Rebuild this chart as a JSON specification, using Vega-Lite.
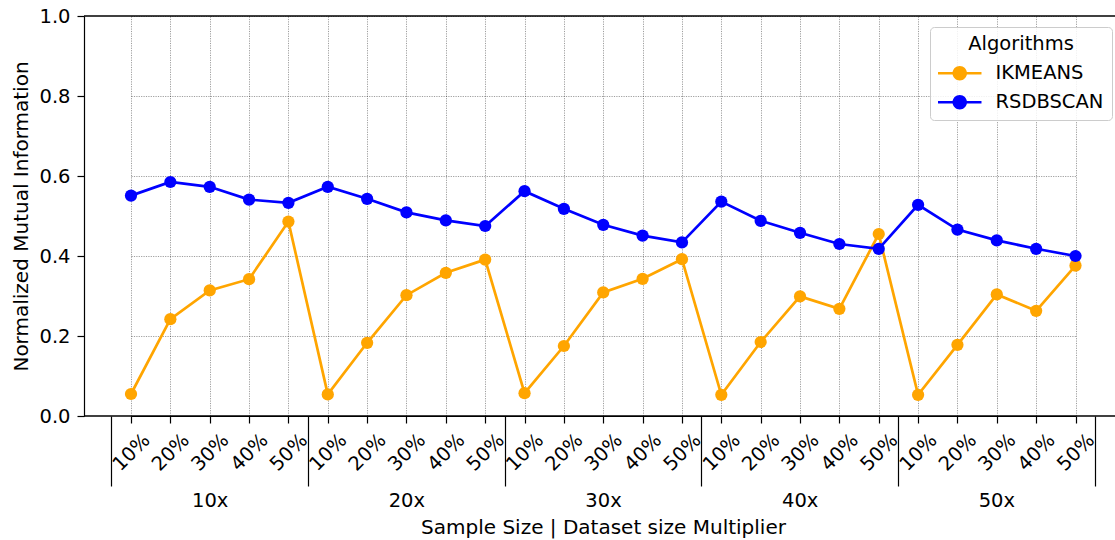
{
  "$schema": "https://vega.github.io/schema/vega-lite/v6.json",
  "width": 1031,
  "height": 400,
  "autosize": {"type": "none"},
  "padding": {"left": 84, "top": 16, "right": 0, "bottom": 124},
  "background": "white",
  "config": {
    "view": {"stroke": null},
    "font": "DejaVu Sans",
    "axis": {
      "domainColor": "black",
      "domainWidth": 1.2,
      "tickColor": "black",
      "tickWidth": 1.2,
      "labelColor": "black",
      "titleColor": "black",
      "labelFont": "DejaVu Sans",
      "titleFont": "DejaVu Sans",
      "labelFontSize": 19.5,
      "titleFontSize": 20,
      "titleFontWeight": "normal",
      "gridColor": "#000000",
      "gridOpacity": 0.55,
      "gridWidth": 0.7,
      "gridDash": [1.2, 1.2]
    }
  },
  "data": {
    "values": [
      {"cell": "10x 10%", "multiplier": "10x", "sample": "10%", "algorithm": "IKMEANS", "nmi": 0.055},
      {"cell": "10x 20%", "multiplier": "10x", "sample": "20%", "algorithm": "IKMEANS", "nmi": 0.242},
      {"cell": "10x 30%", "multiplier": "10x", "sample": "30%", "algorithm": "IKMEANS", "nmi": 0.314},
      {"cell": "10x 40%", "multiplier": "10x", "sample": "40%", "algorithm": "IKMEANS", "nmi": 0.342},
      {"cell": "10x 50%", "multiplier": "10x", "sample": "50%", "algorithm": "IKMEANS", "nmi": 0.486},
      {"cell": "20x 10%", "multiplier": "20x", "sample": "10%", "algorithm": "IKMEANS", "nmi": 0.054},
      {"cell": "20x 20%", "multiplier": "20x", "sample": "20%", "algorithm": "IKMEANS", "nmi": 0.183},
      {"cell": "20x 30%", "multiplier": "20x", "sample": "30%", "algorithm": "IKMEANS", "nmi": 0.302},
      {"cell": "20x 40%", "multiplier": "20x", "sample": "40%", "algorithm": "IKMEANS", "nmi": 0.358},
      {"cell": "20x 50%", "multiplier": "20x", "sample": "50%", "algorithm": "IKMEANS", "nmi": 0.391},
      {"cell": "30x 10%", "multiplier": "30x", "sample": "10%", "algorithm": "IKMEANS", "nmi": 0.057},
      {"cell": "30x 20%", "multiplier": "30x", "sample": "20%", "algorithm": "IKMEANS", "nmi": 0.175},
      {"cell": "30x 30%", "multiplier": "30x", "sample": "30%", "algorithm": "IKMEANS", "nmi": 0.309},
      {"cell": "30x 40%", "multiplier": "30x", "sample": "40%", "algorithm": "IKMEANS", "nmi": 0.343},
      {"cell": "30x 50%", "multiplier": "30x", "sample": "50%", "algorithm": "IKMEANS", "nmi": 0.392},
      {"cell": "40x 10%", "multiplier": "40x", "sample": "10%", "algorithm": "IKMEANS", "nmi": 0.053},
      {"cell": "40x 20%", "multiplier": "40x", "sample": "20%", "algorithm": "IKMEANS", "nmi": 0.185},
      {"cell": "40x 30%", "multiplier": "40x", "sample": "30%", "algorithm": "IKMEANS", "nmi": 0.299},
      {"cell": "40x 40%", "multiplier": "40x", "sample": "40%", "algorithm": "IKMEANS", "nmi": 0.268},
      {"cell": "40x 50%", "multiplier": "40x", "sample": "50%", "algorithm": "IKMEANS", "nmi": 0.455},
      {"cell": "50x 10%", "multiplier": "50x", "sample": "10%", "algorithm": "IKMEANS", "nmi": 0.053},
      {"cell": "50x 20%", "multiplier": "50x", "sample": "20%", "algorithm": "IKMEANS", "nmi": 0.178},
      {"cell": "50x 30%", "multiplier": "50x", "sample": "30%", "algorithm": "IKMEANS", "nmi": 0.304},
      {"cell": "50x 40%", "multiplier": "50x", "sample": "40%", "algorithm": "IKMEANS", "nmi": 0.263},
      {"cell": "50x 50%", "multiplier": "50x", "sample": "50%", "algorithm": "IKMEANS", "nmi": 0.376},
      {"cell": "10x 10%", "multiplier": "10x", "sample": "10%", "algorithm": "RSDBSCAN", "nmi": 0.551},
      {"cell": "10x 20%", "multiplier": "10x", "sample": "20%", "algorithm": "RSDBSCAN", "nmi": 0.585},
      {"cell": "10x 30%", "multiplier": "10x", "sample": "30%", "algorithm": "RSDBSCAN", "nmi": 0.573},
      {"cell": "10x 40%", "multiplier": "10x", "sample": "40%", "algorithm": "RSDBSCAN", "nmi": 0.541},
      {"cell": "10x 50%", "multiplier": "10x", "sample": "50%", "algorithm": "RSDBSCAN", "nmi": 0.533},
      {"cell": "20x 10%", "multiplier": "20x", "sample": "10%", "algorithm": "RSDBSCAN", "nmi": 0.573},
      {"cell": "20x 20%", "multiplier": "20x", "sample": "20%", "algorithm": "RSDBSCAN", "nmi": 0.543},
      {"cell": "20x 30%", "multiplier": "20x", "sample": "30%", "algorithm": "RSDBSCAN", "nmi": 0.509},
      {"cell": "20x 40%", "multiplier": "20x", "sample": "40%", "algorithm": "RSDBSCAN", "nmi": 0.489},
      {"cell": "20x 50%", "multiplier": "20x", "sample": "50%", "algorithm": "RSDBSCAN", "nmi": 0.475},
      {"cell": "30x 10%", "multiplier": "30x", "sample": "10%", "algorithm": "RSDBSCAN", "nmi": 0.562},
      {"cell": "30x 20%", "multiplier": "30x", "sample": "20%", "algorithm": "RSDBSCAN", "nmi": 0.518},
      {"cell": "30x 30%", "multiplier": "30x", "sample": "30%", "algorithm": "RSDBSCAN", "nmi": 0.478},
      {"cell": "30x 40%", "multiplier": "30x", "sample": "40%", "algorithm": "RSDBSCAN", "nmi": 0.451},
      {"cell": "30x 50%", "multiplier": "30x", "sample": "50%", "algorithm": "RSDBSCAN", "nmi": 0.434},
      {"cell": "40x 10%", "multiplier": "40x", "sample": "10%", "algorithm": "RSDBSCAN", "nmi": 0.536},
      {"cell": "40x 20%", "multiplier": "40x", "sample": "20%", "algorithm": "RSDBSCAN", "nmi": 0.488},
      {"cell": "40x 30%", "multiplier": "40x", "sample": "30%", "algorithm": "RSDBSCAN", "nmi": 0.458},
      {"cell": "40x 40%", "multiplier": "40x", "sample": "40%", "algorithm": "RSDBSCAN", "nmi": 0.430},
      {"cell": "40x 50%", "multiplier": "40x", "sample": "50%", "algorithm": "RSDBSCAN", "nmi": 0.418},
      {"cell": "50x 10%", "multiplier": "50x", "sample": "10%", "algorithm": "RSDBSCAN", "nmi": 0.528},
      {"cell": "50x 20%", "multiplier": "50x", "sample": "20%", "algorithm": "RSDBSCAN", "nmi": 0.466},
      {"cell": "50x 30%", "multiplier": "50x", "sample": "30%", "algorithm": "RSDBSCAN", "nmi": 0.439},
      {"cell": "50x 40%", "multiplier": "50x", "sample": "40%", "algorithm": "RSDBSCAN", "nmi": 0.418},
      {"cell": "50x 50%", "multiplier": "50x", "sample": "50%", "algorithm": "RSDBSCAN", "nmi": 0.400}
    ]
  },
  "layer": [
    {
      "data": {"values": [{"edge": "top", "nmi": 1}, {"edge": "bottom", "nmi": 0}]},
      "mark": {"type": "rule", "color": "black", "strokeWidth": 1.4},
      "encoding": {"y": {"field": "nmi", "type": "quantitative"}}
    },
    {
      "encoding": {
        "x": {
          "field": "cell",
          "type": "nominal",
          "scale": {"type": "point", "range": [47, 991.5], "padding": 0},
          "axis": {
            "orient": "bottom",
            "title": null,
            "labelExpr": "split(datum.label, ' ')[1]",
            "labelAngle": -45,
            "labelAlign": "center",
            "labelBaseline": "middle",
            "labelPadding": 29,
            "labelOverlap": false,
            "tickSize": 7,
            "grid": true
          }
        },
        "y": {
          "field": "nmi",
          "type": "quantitative",
          "scale": {"domain": [0, 1], "nice": false, "zero": true},
          "axis": {
            "values": [0, 0.2, 0.4, 0.6, 0.8, 1],
            "format": ".1f",
            "title": "Normalized Mutual Information",
            "tickSize": 7,
            "labelPadding": 7,
            "titlePadding": 7,
            "grid": true
          }
        },
        "color": {
          "field": "algorithm",
          "type": "nominal",
          "scale": {"domain": ["IKMEANS", "RSDBSCAN"], "range": ["#ffa500", "#0000ff"]},
          "legend": {
            "orient": "none",
            "legendX": 846,
            "legendY": 11,
            "title": "Algorithms",
            "titleAnchor": "middle",
            "titleFontSize": 19.5,
            "titleFontWeight": "normal",
            "titleColor": "black",
            "titlePadding": 9,
            "labelFontSize": 19.5,
            "labelColor": "black",
            "labelOffset": 26,
            "symbolType": "M-3,-0.18L3,-0.18L3,0.18L-3,0.18Z M-1,0A1,1 0 1,1 1,0A1,1 0 1,1 -1,0Z",
            "symbolSize": 210,
            "symbolOffset": 12,
            "symbolStrokeWidth": 0,
            "symbolOpacity": 1,
            "padding": 8,
            "rowPadding": 8,
            "cornerRadius": 4,
            "strokeColor": "#cccccc",
            "fillColor": "rgba(255,255,255,0.85)",
            "encode": {
              "symbols": {
                "update": {
                  "fill": {"scale": "color", "field": "value"},
                  "stroke": {"value": "transparent"},
                  "opacity": {"value": 1}
                }
              }
            }
          }
        }
      },
      "layer": [
        {
          "transform": [{"filter": "datum.algorithm === 'IKMEANS'"}],
          "mark": {"type": "line", "strokeWidth": 2.7}
        },
        {
          "transform": [{"filter": "datum.algorithm === 'IKMEANS'"}],
          "mark": {"type": "point", "filled": true, "size": 150, "opacity": 1}
        },
        {
          "transform": [{"filter": "datum.algorithm === 'RSDBSCAN'"}],
          "mark": {"type": "line", "strokeWidth": 2.7}
        },
        {
          "transform": [{"filter": "datum.algorithm === 'RSDBSCAN'"}],
          "mark": {"type": "point", "filled": true, "size": 150, "opacity": 1}
        }
      ]
    },
    {
      "mark": {"type": "tick", "opacity": 0},
      "encoding": {
        "x": {
          "field": "multiplier",
          "type": "nominal",
          "scale": {"type": "band", "range": [27.33, 1010.67], "paddingInner": 0, "paddingOuter": 0},
          "axis": {
            "orient": "bottom",
            "title": "Sample Size | Dataset size Multiplier",
            "titlePadding": 8,
            "tickBand": "extent",
            "tickSize": 70,
            "labelPadding": 5,
            "labelAngle": 0,
            "domain": false,
            "grid": false
          }
        }
      }
    }
  ],
  "resolve": {"scale": {"x": "independent"}}
}
